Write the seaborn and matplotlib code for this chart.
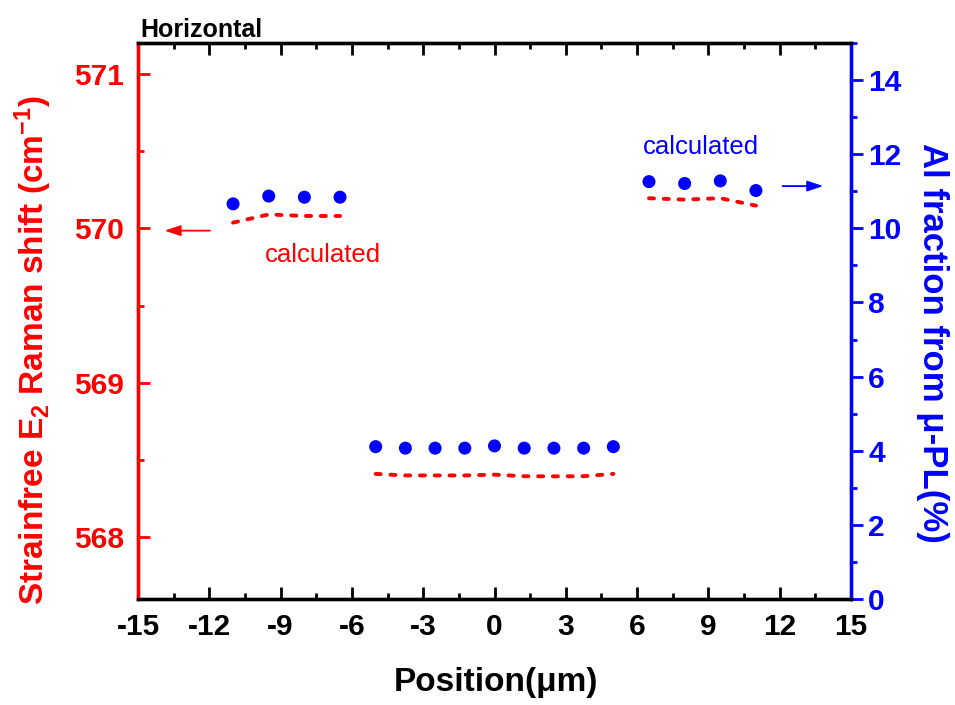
import matplotlib
matplotlib.use("Agg")
import matplotlib.pyplot as plt
import seaborn as sns
import pandas as pd
from matplotlib.ticker import MultipleLocator

sns.set_style("white")
plt.rcParams["font.family"] = ["Liberation Sans", "DejaVu Sans"]
plt.rcParams["font.weight"] = "bold"
plt.rcParams["axes.unicode_minus"] = False
plt.rcParams["mathtext.fontset"] = "custom"
plt.rcParams["mathtext.rm"] = "Liberation Sans:bold"
plt.rcParams["mathtext.bf"] = "Liberation Sans:bold"
plt.rcParams["mathtext.default"] = "bf"

# Measured positions (um)
pos_left = [-11, -9.5, -8, -6.5]
pos_mid = [-5, -3.75, -2.5, -1.25, 0, 1.25, 2.5, 3.75, 5]
pos_right = [6.5, 8, 9.5, 11]

# Al fraction from micro-PL (%)
al_left = [10.66, 10.87, 10.84, 10.84]
al_mid = [4.11, 4.07, 4.07, 4.07, 4.13, 4.07, 4.07, 4.07, 4.11]
al_right = [11.26, 11.21, 11.28, 11.02]

# Calculated strain-free E2 Raman shift (cm^-1)
raman_left = [570.037, 570.09, 570.08, 570.08]
raman_mid = [568.41, 568.40, 568.40, 568.40, 568.405, 568.395, 568.394, 568.395, 568.41]
raman_right = [570.195, 570.186, 570.195, 570.147]

x_ticks = [-15, -12, -9, -6, -3, 0, 3, 6, 9, 12, 15]
left_ticks = [568, 569, 570, 571]
right_ticks = [0, 2, 4, 6, 8, 10, 12, 14]

RED = "#ff0000"
BLUE = "#0000ff"

fig = plt.figure(figsize=(9.55, 7.05), dpi=100)
ax = fig.add_axes([138 / 955, 1 - 599 / 705, (851 - 138) / 955, (599 - 43) / 705])
ax2 = ax.twinx()

# Raman shift: dashed segments on the left axis
for xs, ys in [(pos_left, raman_left), (pos_mid, raman_mid), (pos_right, raman_right)]:
    seg = pd.DataFrame({"pos": xs, "raman": ys})
    sns.lineplot(data=seg, x="pos", y="raman", ax=ax, color=RED, lw=2.8,
                 linestyle=(0, (1.3, 2.5)), dash_capstyle="round",
                 estimator=None, errorbar=None)

# Al fraction: dots on the right axis
al_df = pd.DataFrame({"pos": pos_left + pos_mid + pos_right,
                      "al": al_left + al_mid + al_right})
sns.scatterplot(data=al_df, x="pos", y="al", ax=ax2, color=BLUE, s=88,
                edgecolor="none", zorder=3)

ax.set_xlim(-15, 15)
ax.set_ylim(567.6, 571.2)
ax2.set_ylim(0, 15)

ax.set_xticks(x_ticks)
ax.set_xticklabels([str(v) for v in x_ticks])
ax.xaxis.set_minor_locator(MultipleLocator(1.5))
ax.set_yticks(left_ticks)
ax.set_yticklabels([str(v) for v in left_ticks])
ax.yaxis.set_minor_locator(MultipleLocator(0.5))
ax2.set_yticks(right_ticks)
ax2.set_yticklabels([str(v) for v in right_ticks])
ax2.yaxis.set_minor_locator(MultipleLocator(1))

spine_w = 2.4
for a in (ax, ax2):
    for s in a.spines.values():
        s.set_linewidth(spine_w)
        s.set_color("black")
ax.spines["left"].set_color(RED)
ax2.spines["left"].set_color(RED)
ax2.spines["right"].set_color(BLUE)
ax.spines["right"].set_color(BLUE)

ax.tick_params(axis="x", which="both", direction="in", top=True, bottom=True,
               colors="black", width=2.0, labelsize=21.5, pad=10)
ax.tick_params(axis="x", which="major", length=8.5)
ax.tick_params(axis="x", which="minor", length=4.5)
ax.tick_params(axis="y", which="both", direction="in", left=True, right=False,
               colors=RED, width=2.0, labelsize=21.5, pad=10)
ax.tick_params(axis="y", which="major", length=8.5)
ax.tick_params(axis="y", which="minor", length=4.5)
ax2.tick_params(axis="y", which="both", direction="out", right=True, left=False,
                colors=BLUE, width=2.0, labelsize=21.5, pad=4)
ax2.tick_params(axis="y", which="major", length=8.5)
ax2.tick_params(axis="y", which="minor", length=4.5)
for lab in ax.get_xticklabels() + ax.get_yticklabels() + ax2.get_yticklabels():
    lab.set_fontweight("bold")

ax.set_xlabel("Position(μm)", fontsize=24, fontweight="bold", color="black")
ax.xaxis.set_label_coords(0.502, -0.151)
ax.xaxis.label.set_va("center")

ax.set_ylabel(r"Strainfree E$_{2}$ Raman shift (cm$^{-1}$)", fontsize=24,
              fontweight="bold", color=RED)
ax.yaxis.label.set_va("center")
ax.yaxis.set_label_coords(-0.147, 0.448)

ax2.set_ylabel("Al fraction from μ-PL(%)", fontsize=25, fontweight="bold",
               color=BLUE, rotation=270)
ax2.yaxis.label.set_va("center")
ax2.yaxis.set_label_coords(1.115, 0.46)

# Annotations
ax.text(-7.22, 569.83, "calculated", color=RED, fontsize=18.5, fontweight="normal",
        ha="center", va="center")
ax2.text(8.68, 12.19, "calculated", color=BLUE, fontsize=18.5, fontweight="normal",
         ha="center", va="center")
ax.annotate("", xy=(-14.0, 569.985), xytext=(-11.85, 569.985),
            arrowprops=dict(arrowstyle="-|>,head_length=0.6,head_width=0.2",
                            color=RED, lw=1.3, mutation_scale=16))
ax2.annotate("", xy=(13.95, 11.14), xytext=(12.0, 11.14),
             arrowprops=dict(arrowstyle="-|>,head_length=0.6,head_width=0.2",
                             color=BLUE, lw=1.3, mutation_scale=16))

fig.text(140 / 955, 1 - 37 / 705, "Horizontal", fontsize=18, fontweight="bold",
         color="black", ha="left", va="baseline")

fig.savefig("out.png", dpi=100)
